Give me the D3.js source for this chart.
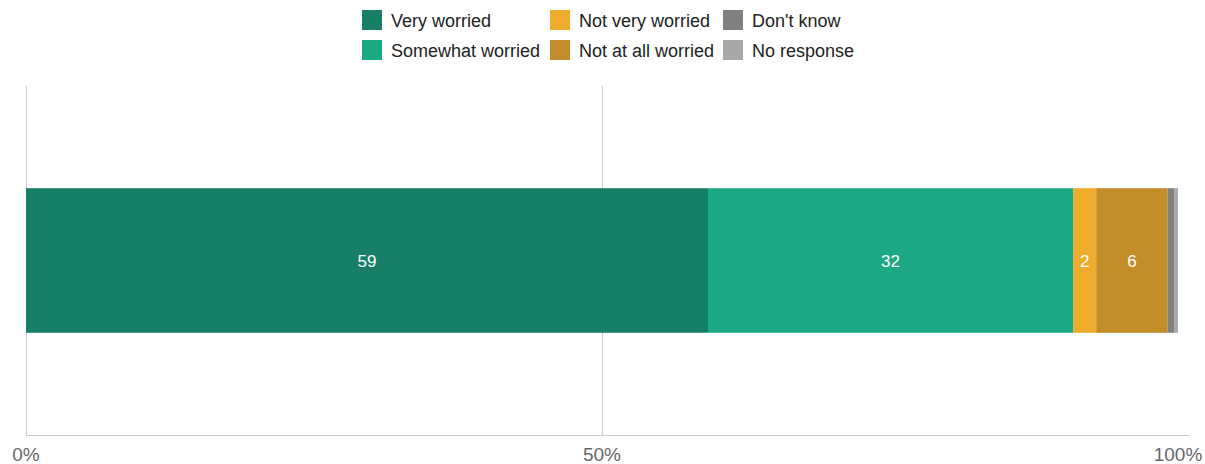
<!DOCTYPE html>
<html><head><meta charset="utf-8">
<script src="https://cdn.jsdelivr.net/npm/d3@7"></script>
<style>body{margin:0;background:#fff;font-family:"Liberation Sans",Arial,sans-serif;}</style>
</head><body><svg id="c" width="1205" height="464"></svg>
<script>
const categories = ["Very worried","Somewhat worried","Not very worried","Not at all worried","Don't know","No response"];
const values = [59.2, 31.7, 2.0, 6.2, 0.6, 0.3];
const labels = ["59","32","2","6","",""];
const colors = ["#177f67","#1ca884","#eeab2c","#c28d28","#808080","#a8a8a8"];
const tickValues = [0, 50, 100];
const tickLabels = ["0%","50%","100%"];

const svg = d3.select("#c");
const x = d3.scaleLinear().domain([0,100]).range([26,1178]);
const y = d3.scaleBand().domain(["row"]).range([86,435]).paddingInner(0).paddingOuter(0.707);

// gridlines (not at 100)
svg.append("g").selectAll("line").data(tickValues.filter(d=>d<100)).join("line")
  .attr("x1",d=>Math.round(x(d))+0.5).attr("x2",d=>Math.round(x(d))+0.5)
  .attr("y1",86).attr("y2",435).attr("stroke","#cccccc").attr("stroke-width",1);

// stacked bar
let acc = 0;
const segs = values.map((v,i)=>{const s={start:acc,end:acc+v,i}; acc+=v; return s;});
const g = svg.append("g");
g.selectAll("rect").data(segs).join("rect")
  .attr("x",d=>x(d.start)).attr("width",d=>x(d.end)-x(d.start))
  .attr("y",y("row")).attr("height",y.bandwidth())
  .attr("fill",d=>colors[d.i]);
g.selectAll("text").data(segs.filter(d=>labels[d.i])).join("text")
  .attr("x",d=>(x(d.start)+x(d.end))/2).attr("y",y("row")+y.bandwidth()/2)
  .attr("dy","0.36em").attr("text-anchor","middle").attr("fill","#fff")
  .attr("font-size",17).text(d=>labels[d.i]);

// axis baseline
svg.append("line").attr("x1",26).attr("x2",1190).attr("y1",435.5).attr("y2",435.5)
  .attr("stroke","#cccccc");
svg.append("g").selectAll("text").data(tickValues).join("text")
  .attr("x",d=>x(d)).attr("y",461).attr("text-anchor","middle")
  .attr("fill","#666").attr("font-size",19).text((d,i)=>tickLabels[i]);

// legend
const colX = [362, 550, 723];
const rowY = [10, 40];
const leg = svg.append("g");
categories.forEach((c,i)=>{
  const col = Math.floor(i/2), row = i%2;
  leg.append("rect").attr("x",colX[col]).attr("y",rowY[row]).attr("width",20).attr("height",20).attr("fill",colors[i]);
  leg.append("text").attr("x",colX[col]+29).attr("y",rowY[row]+11).attr("dy","0.36em")
    .attr("font-size",18).attr("fill","#222").text(c);
});
</script></body></html>
